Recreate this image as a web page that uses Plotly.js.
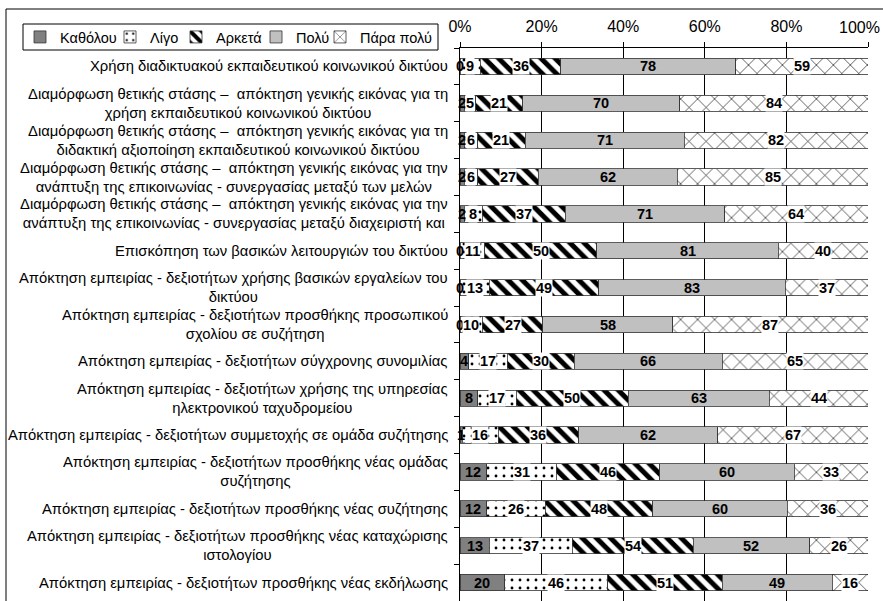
<!DOCTYPE html>
<html>
<head>
<meta charset="utf-8">
<script src="https://cdn.plot.ly/plotly-3.0.1.min.js"></script>
<style>html,body{margin:0;padding:0;background:#fff;}#chart{width:883px;height:601px;}</style>
</head>
<body>
<div id="chart"></div>
<script>
const categories = [
  "Χρήση διαδικτυακού εκπαιδευτικού κοινωνικού δικτύου",
  "Διαμόρφωση θετικής στάσης –  απόκτηση γενικής εικόνας για τη<br>χρήση εκπαιδευτικού κοινωνικού δικτύου",
  "Διαμόρφωση θετικής στάσης –  απόκτηση γενικής εικόνας για τη<br>διδακτική αξιοποίηση εκπαιδευτικού κοινωνικού δικτύου",
  "Διαμόρφωση θετικής στάσης –  απόκτηση γενικής εικόνας για την<br>ανάπτυξη της επικοινωνίας - συνεργασίας μεταξύ των μελών",
  "Διαμόρφωση θετικής στάσης –  απόκτηση γενικής εικόνας για την<br>ανάπτυξη της επικοινωνίας - συνεργασίας μεταξύ διαχειριστή και",
  "Επισκόπηση των βασικών λειτουργιών του δικτύου",
  "Απόκτηση εμπειρίας - δεξιοτήτων χρήσης βασικών εργαλείων του<br>δικτύου",
  "Απόκτηση εμπειρίας - δεξιοτήτων προσθήκης προσωπικού<br>σχολίου σε συζήτηση",
  "Απόκτηση εμπειρίας - δεξιοτήτων σύγχρονης συνομιλίας",
  "Απόκτηση εμπειρίας - δεξιοτήτων χρήσης της υπηρεσίας<br>ηλεκτρονικού ταχυδρομείου",
  "Απόκτηση εμπειρίας - δεξιοτήτων συμμετοχής σε ομάδα συζήτησης",
  "Απόκτηση εμπειρίας - δεξιοτήτων προσθήκης νέας ομάδας<br>συζήτησης",
  "Απόκτηση εμπειρίας - δεξιοτήτων προσθήκης νέας συζήτησης",
  "Απόκτηση εμπειρίας - δεξιοτήτων προσθήκης νέας καταχώρισης<br>ιστολογίου",
  "Απόκτηση εμπειρίας - δεξιοτήτων προσθήκης νέας εκδήλωσης"
];
const seriesNames = ["Καθόλου", "Λίγο", "Αρκετά", "Πολύ", "Πάρα πολύ"];
const kathólou = [0, 2, 2, 2, 2, 0, 0, 0, 4, 8, 1, 12, 12, 13, 20];
const ligo     = [9, 5, 6, 6, 8, 11, 13, 10, 17, 17, 16, 31, 26, 37, 46];
const arketa   = [36, 21, 21, 27, 37, 50, 49, 27, 30, 50, 36, 46, 48, 54, 51];
const poly     = [78, 70, 71, 62, 71, 81, 83, 58, 66, 63, 62, 60, 60, 52, 49];
const paraPoly = [59, 84, 82, 85, 64, 40, 37, 87, 65, 44, 67, 33, 36, 26, 16];
const xTickVals = [0, 20, 40, 60, 80, 100];
const xTickText = ["0%", "20%", "40%", "60%", "80%", "100%"];

const seriesValues = [kathólou, ligo, arketa, poly, paraPoly];
const FONT = "Liberation Sans, Arial, sans-serif";
const styles = [
  {color: "#808080", pattern: null, labelBg: null},
  {color: "#ffffff", pattern: {shape: ".", fgcolor: "#000", bgcolor: "#fff", size: 8, solidity: 0.1}, labelBg: "#fff"},
  {color: "#ffffff", pattern: {shape: "\\", fgcolor: "#000", bgcolor: "#fff", size: 10, solidity: 0.5}, labelBg: "#fff"},
  {color: "#c0c0c0", pattern: null, labelBg: null},
  {color: "#ffffff", pattern: {shape: "x", fgcolor: "#000", bgcolor: "#fff", size: 12, solidity: 0.1}, labelBg: "#fff"}
];

const L = 460, R = 15, T = 48, B = 0, W = 883, H = 601;
const pw = W - L - R, ph = H - T - B;
const px = v => (v - L) / pw;
const py = v => (H - B - v) / ph;

const legendLeft = [20, 110, 176, 256, 320];
const legendIds = ["legend", "legend2", "legend3", "legend4", "legend5"];

const traces = seriesNames.map((name, i) => {
  const marker = {color: styles[i].color, line: {color: "#333", width: 0.8}};
  if (styles[i].pattern) marker.pattern = styles[i].pattern;
  return {
    type: "bar", orientation: "h", name: name,
    x: seriesValues[i], y: categories,
    marker: marker, hoverinfo: "x+name", legend: legendIds[i]
  };
});

const annotations = [];
categories.forEach((cat, r) => {
  const total = seriesValues.reduce((s, arr) => s + arr[r], 0);
  let cum = 0;
  seriesValues.forEach((arr, i) => {
    const v = arr[r];
    const a = {
      x: (cum + v / 2) / total * 100, y: cat, xref: "x", yref: "y",
      text: String(v), showarrow: false,
      font: {family: FONT, size: 14.5, color: "#000", weight: "bold"},
      borderpad: 0
    };
    if (styles[i].labelBg) a.bgcolor = styles[i].labelBg;
    annotations.push(a);
    cum += v;
  });
  annotations.push({
    x: 0, xref: "paper", y: cat, yref: "y", xanchor: "right", xshift: -10,
    text: cat, align: "center", showarrow: false,
    font: {family: FONT, size: 14.8, color: "#000"}
  });
});

// last tick label kept inside the picture
const lastTick = xTickVals.length - 1;
annotations.push({
  x: xTickVals[lastTick], xref: "x", y: py(27), yref: "paper",
  xanchor: "right", yanchor: "middle", xshift: 14,
  text: xTickText[lastTick], showarrow: false,
  font: {family: FONT, size: 16, color: "#000"}
});
const shownTickText = xTickText.map((t, i) => (i === lastTick ? "" : t));

const layout = {
  width: W, height: H,
  margin: {l: L, r: R, t: T, b: B, pad: 0},
  paper_bgcolor: "#fff", plot_bgcolor: "#fff",
  barmode: "stack", barnorm: "percent", bargap: 0.56,
  font: {family: FONT, size: 12, color: "#000"},
  xaxis: {
    side: "top", range: [0, 100], tickmode: "array", tickvals: xTickVals, ticktext: shownTickText,
    ticks: "outside", ticklen: 5, tickcolor: "#000", ticklabelstandoff: 4,
    showline: true, linecolor: "#000", linewidth: 1,
    showgrid: true, gridcolor: "#000", gridwidth: 1, zeroline: false,
    tickfont: {family: FONT, size: 16, color: "#000"}, fixedrange: true
  },
  yaxis: {
    type: "category", autorange: "reversed", showticklabels: false,
    ticks: "outside", tickson: "boundaries", ticklen: 5, tickcolor: "#000",
    showline: true, linecolor: "#000", linewidth: 1, showgrid: false,
    fixedrange: true
  },
  annotations: annotations,
  shapes: [
    {type: "rect", xref: "paper", yref: "paper",
     x0: px(6), x1: px(900), y0: py(9), y1: py(620),
     line: {color: "#000", width: 1}, fillcolor: "rgba(0,0,0,0)"},
    {type: "rect", xref: "paper", yref: "paper",
     x0: px(23), x1: px(438), y0: py(24), y1: py(50),
     line: {color: "#000", width: 1}, fillcolor: "#fff"}
  ],
  showlegend: true
};
legendIds.forEach((id, i) => {
  layout[id] = {
    orientation: "h", x: px(legendLeft[i]), y: py(37), xanchor: "left", yanchor: "middle",
    bgcolor: "rgba(0,0,0,0)", borderwidth: 0,
    font: {family: FONT, size: 14.5, color: "#000"}
  };
});

Plotly.newPlot("chart", traces, layout, {displayModeBar: false, staticPlot: true});
</script>
</body>
</html>
